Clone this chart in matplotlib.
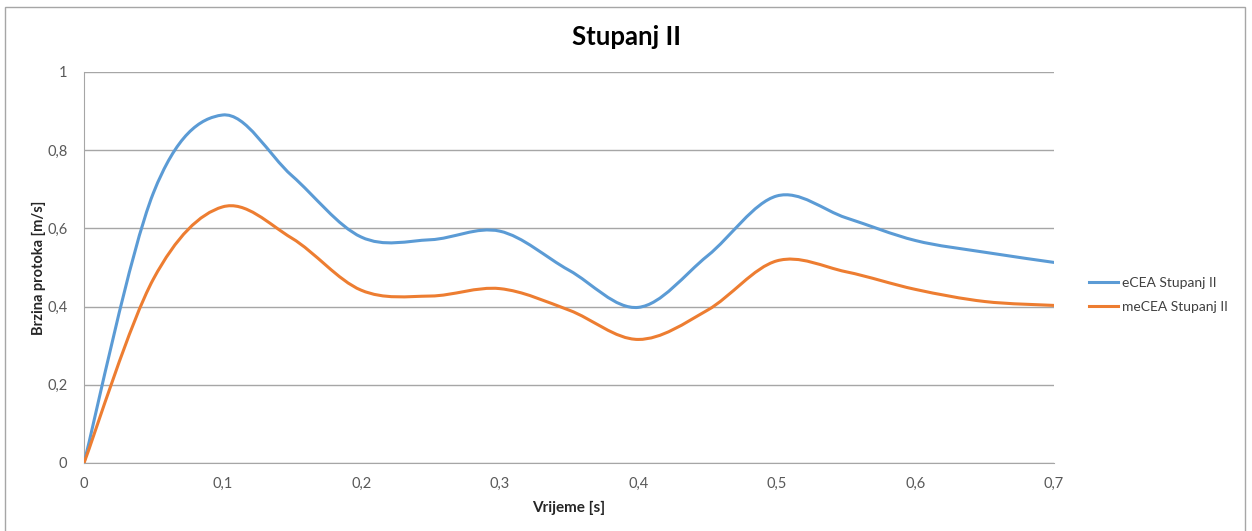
import numpy as np
import matplotlib.pyplot as plt
from matplotlib.path import Path
from matplotlib.patches import PathPatch, Rectangle
from matplotlib.lines import Line2D
from matplotlib.ticker import FuncFormatter, MultipleLocator

# podaci
vrijeme = [0, 0.05, 0.1, 0.15, 0.2, 0.25, 0.3, 0.35, 0.4, 0.45, 0.5, 0.55, 0.6, 0.65, 0.7]
ecea = [0, 0.69, 0.89, 0.735, 0.578, 0.571, 0.593, 0.493, 0.398, 0.53, 0.683, 0.627, 0.569, 0.539, 0.513]
mecea = [0, 0.47, 0.655, 0.575, 0.442, 0.427, 0.446, 0.391, 0.316, 0.391, 0.517, 0.489, 0.444, 0.413, 0.403]
nazivi = ['eCEA Stupanj II', 'meCEA Stupanj II']
boje = ['#5B9BD5', '#ED7D31']

plt.rcParams['font.family'] = ['Lato', 'DejaVu Sans']


def glatka_linija(x, y):
    # Excel-style smoothed line: cubic bezier through the points
    p = np.column_stack([x, y]).astype(float)
    n = len(p)
    verts = [p[0]]
    codes = [Path.MOVETO]
    for i in range(n - 1):
        prev = p[i - 1] if i > 0 else p[i]
        nxt = p[i + 2] if i + 2 < n else p[i + 1]
        c1 = p[i] + (p[i + 1] - prev) / 6
        c2 = p[i + 1] - (nxt - p[i]) / 6
        verts += [c1, c2, p[i + 1]]
        codes += [Path.CURVE4] * 3
    return Path(verts, codes)


fig = plt.figure(figsize=(12.52, 5.31), dpi=100)
ax = fig.add_axes([84 / 1252, 1 - 463 / 531, 970 / 1252, 391 / 531])

for y, boja in zip([ecea, mecea], boje):
    ax.add_patch(PathPatch(glatka_linija(vrijeme, y), fill=False, edgecolor=boja,
                           lw=2.2, capstyle='round', joinstyle='round', zorder=3))

ax.set_xlim(0, 0.7)
ax.set_ylim(0, 1)
ax.xaxis.set_major_locator(MultipleLocator(0.1))
ax.yaxis.set_major_locator(MultipleLocator(0.2))
fmt = FuncFormatter(lambda v, pos: ('%g' % round(v, 2)).replace('.', ','))
ax.xaxis.set_major_formatter(fmt)
ax.yaxis.set_major_formatter(fmt)
ax.tick_params(length=0, labelsize=10.5, colors='#595959', pad=10)
ax.tick_params(axis='y', pad=12)
ax.grid(axis='y', color='#A6A6A6', lw=1)
for s in ['top', 'right']:
    ax.spines[s].set_visible(False)
for s in ['left', 'bottom']:
    ax.spines[s].set_color('#A6A6A6')

ax.set_xlabel('Vrijeme [s]', fontsize=11, fontweight='bold', color='#262626', labelpad=7)
ax.set_ylabel('Brzina protoka [m/s]', fontsize=10.5, fontweight='bold', color='#262626', labelpad=1)
fig.text(0.5, 1 - 37 / 531, 'Stupanj II', ha='center', va='center',
         fontsize=18.5, fontweight='bold', color='black')

ruke = [Line2D([], [], color=b, lw=2.2) for b in boje]
fig.legend(ruke, nazivi, loc='center left', bbox_to_anchor=(1076 / 1252, 1 - 295 / 531),
           frameon=False, fontsize=10, handlelength=2.1, labelspacing=0.9,
           handletextpad=0.3, labelcolor='#404040')

fig.patches.append(Rectangle((5 / 1252, -0.05), 1240 / 1252, 1.05 - 7 / 531,
                             transform=fig.transFigure, fill=False,
                             edgecolor='#A6A6A6', lw=1))

fig.savefig('out.png', dpi=100)
